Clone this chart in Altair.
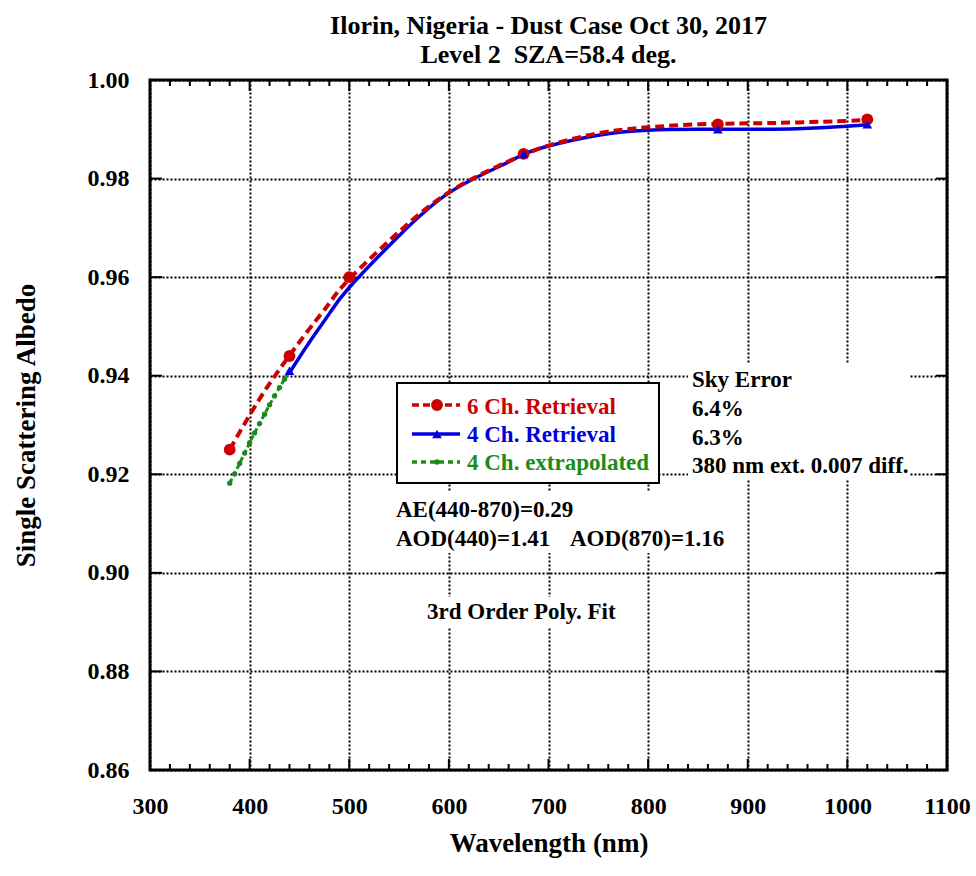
import altair as alt
import pandas as pd

FONT = "Liberation Serif"
RED = "#cc0000"
BLUE = "#0000dd"
GREEN = "#1a8c1a"

# ---- data ----
wl_6ch = [380, 440, 500, 675, 870, 1020]
ssa_6ch = [0.925, 0.944, 0.960, 0.985, 0.991, 0.992]

wl_4ch = [440, 675, 870, 1020]
ssa_4ch = [0.941, 0.985, 0.990, 0.991]

fit6_wl = [380, 400, 420, 440, 460, 480, 500, 550, 600, 650, 675, 700, 750, 800, 850, 900, 950, 1000, 1020]
fit6_ssa = [0.9250, 0.9320, 0.9384, 0.9441, 0.9495, 0.9547, 0.9596, 0.9692, 0.9772, 0.9826, 0.9848,
            0.9867, 0.9892, 0.9904, 0.9910, 0.9912, 0.9914, 0.9917, 0.9919]

fit4_wl = [440, 460, 480, 500, 550, 600, 650, 675, 700, 750, 800, 850, 900, 950, 1000, 1020]
fit4_ssa = [0.9406, 0.9468, 0.9526, 0.9579, 0.9684, 0.9771, 0.9824, 0.9849, 0.9866, 0.9888,
            0.9898, 0.9900, 0.9900, 0.9901, 0.9906, 0.9909]

ext_wl = [380, 385, 390, 395, 400, 405, 410, 415, 420, 425, 430, 435, 440]
ext_ssa = [0.9182, 0.9201, 0.9222, 0.9243, 0.9264, 0.9284, 0.9303, 0.9322, 0.9341, 0.9359,
           0.9376, 0.9393, 0.9408]

x_major = [300, 400, 500, 600, 700, 800, 900, 1000, 1100]
x_minor = [v for v in range(320, 1100, 20) if v % 100 != 0]
y_major = [0.86, 0.88, 0.90, 0.92, 0.94, 0.96, 0.98, 1.00]
y_inner = [0.88, 0.90, 0.92, 0.94, 0.96, 0.98]

title_lines = ["Ilorin, Nigeria - Dust Case Oct 30, 2017", "Level 2\u00a0 SZA=58.4 deg."]

W, H = 797, 690

xscale = alt.Scale(domain=[300, 1100], nice=False, zero=False)
yscale = alt.Scale(domain=[0.86, 1.00], nice=False, zero=False)
xaxis = alt.Axis(values=x_major, title="Wavelength (nm)", format="d", grid=True,
                 labelFlush=False, titleY=60)
yaxis = alt.Axis(values=y_major, title="Single Scattering Albedo", format=".2f", grid=True,
                 labelFlush=False, titleX=-110)


def X():
    return alt.X("wl:Q", scale=xscale, axis=xaxis)


def Y():
    return alt.Y("ssa:Q", scale=yscale, axis=yaxis)


fit6 = pd.DataFrame({"wl": fit6_wl, "ssa": fit6_ssa})
fit4 = pd.DataFrame({"wl": fit4_wl, "ssa": fit4_ssa})
ext = pd.DataFrame({"wl": ext_wl, "ssa": ext_ssa})
pts6 = pd.DataFrame({"wl": wl_6ch, "ssa": ssa_6ch})
pts4 = pd.DataFrame({"wl": wl_4ch, "ssa": ssa_4ch})
one = pd.DataFrame({"wl": [0]})

layers = []

# white backgrounds behind annotation text (hide grid there)
for (x0, x1, y0, y1) in [(538, 760, 283, 399), (243, 578, 411, 473), (274, 475, 517, 548)]:
    layers.append(alt.Chart(one).mark_rect(color="white").encode(
        x=alt.value(x0), x2=alt.value(x1), y=alt.value(y0), y2=alt.value(y1)))

# legend box
layers.append(alt.Chart(one).mark_rect(fill="white", stroke="black", strokeWidth=2).encode(
    x=alt.value(247), x2=alt.value(509), y=alt.value(303), y2=alt.value(403)))

# curves
layers.append(alt.Chart(ext).mark_line(color=GREEN, strokeWidth=3, strokeDash=[5, 3]).encode(x=X(), y=Y()))
layers.append(alt.Chart(ext).mark_circle(color=GREEN, size=28, opacity=1).encode(x=X(), y=Y()))
layers.append(alt.Chart(fit4).mark_line(color=BLUE, strokeWidth=3.5, interpolate="natural").encode(x=X(), y=Y()))
layers.append(alt.Chart(fit6).mark_line(color=RED, strokeWidth=4, strokeDash=[9, 5],
                                        interpolate="natural").encode(x=X(), y=Y()))
layers.append(alt.Chart(pts6).mark_point(shape="circle", filled=True, color=RED, size=140, opacity=1)
              .encode(x=X(), y=Y()))
layers.append(alt.Chart(pts4).mark_point(shape="triangle-up", filled=True, color=BLUE, size=95, opacity=1)
              .encode(x=X(), y=Y()))

# legend entries
leg = [
    (325, RED, [7, 4], "circle", 140, "6 Ch. Retrieval", 334),
    (354, BLUE, None, "triangle-up", 95, "4 Ch. Retrieval", 362),
    (382, GREEN, [5, 4], "circle", 30, "4 Ch. extrapolated", 390),
]
for (ly, col, dash, shape, sz, label, base) in leg:
    rk = dict(color=col, strokeWidth=3.5)
    if dash:
        rk["strokeDash"] = dash
    layers.append(alt.Chart(one).mark_rule(**rk).encode(
        x=alt.value(262), x2=alt.value(310), y=alt.value(ly)))
    layers.append(alt.Chart(one).mark_point(shape=shape, filled=True, color=col, size=sz, opacity=1).encode(
        x=alt.value(287), y=alt.value(ly)))
    layers.append(alt.Chart(one).mark_text(text=label, color=col, font=FONT, fontSize=23, fontWeight="bold",
                                           align="left", baseline="alphabetic").encode(
        x=alt.value(317), y=alt.value(base)))

# annotations
notes = [
    ("Sky Error", 542, 307),
    ("6.4%", 542, 336),
    ("6.3%", 542, 365),
    ("380 nm ext. 0.007 diff.", 542, 393),
    ("AE(440-870)=0.29", 246, 437),
    ("AOD(440)=1.41", 246, 466),
    ("AOD(870)=1.16", 420, 466),
    ("3rd Order Poly. Fit", 277, 539),
]
for (txt, x, y) in notes:
    layers.append(alt.Chart(one).mark_text(text=txt, color="black", font=FONT, fontSize=23, fontWeight="bold",
                                           align="left", baseline="alphabetic").encode(
        x=alt.value(x), y=alt.value(y)))

# inward ticks
xmaj = pd.DataFrame({"wl": x_major})
xmin = pd.DataFrame({"wl": x_minor})
ymaj = pd.DataFrame({"ssa": y_inner})
tick_style = dict(color="black", strokeWidth=2)
layers.append(alt.Chart(xmaj).mark_rule(**tick_style).encode(x=X(), y=alt.value(H), y2=alt.value(H - 11)))
layers.append(alt.Chart(xmaj).mark_rule(**tick_style).encode(x=X(), y=alt.value(0), y2=alt.value(11)))
layers.append(alt.Chart(xmin).mark_rule(**tick_style).encode(x=X(), y=alt.value(H), y2=alt.value(H - 6)))
layers.append(alt.Chart(xmin).mark_rule(**tick_style).encode(x=X(), y=alt.value(0), y2=alt.value(6)))
layers.append(alt.Chart(ymaj).mark_rule(**tick_style).encode(y=Y(), x=alt.value(0), x2=alt.value(12)))
layers.append(alt.Chart(ymaj).mark_rule(**tick_style).encode(y=Y(), x=alt.value(W), x2=alt.value(W - 11)))

chart = alt.layer(*layers).properties(
    width=W,
    height=H,
    background="white",
    autosize=alt.AutoSizeParams(type="none"),
    padding={"left": 150, "top": 80, "right": 29, "bottom": 106},
    title=alt.TitleParams(text=title_lines, font=FONT, fontSize=26, fontWeight="bold", color="black",
                          anchor="middle", offset=0, lineHeight=29),
).configure_view(
    stroke="black", strokeWidth=3
).configure_axis(
    domain=False, ticks=False, tickSize=0, labelFlush=False,
    grid=True, gridColor="black", gridDash=[2, 2], gridWidth=2, gridOpacity=1,
    labelFont=FONT, labelFontSize=24, labelFontWeight="bold", labelColor="black",
    titleFont=FONT, titleFontSize=27, titleFontWeight="bold", titleColor="black",
).configure_axisX(
    labelPadding=24,
).configure_axisY(
    labelPadding=21,
)

chart.save("out.html", embed_options={"renderer": "svg", "actions": False})
